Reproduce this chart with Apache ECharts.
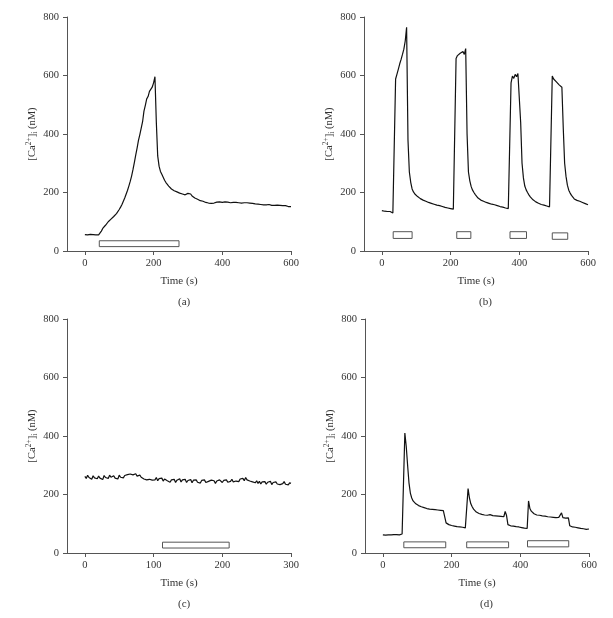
<!DOCTYPE html>
<html>
<head>
<meta charset="utf-8">
<script src="https://cdn.jsdelivr.net/npm/echarts@6/dist/echarts.min.js"></script>
<style>
html,body{margin:0;padding:0;background:#fff;}
#chart{width:613px;height:618px;}
</style>
</head>
<body>
<div id="chart"></div>
<script>
// ---- data ----
const panelLabels = ['(a)', '(b)', '(c)', '(d)'];
const xTicksA = [0, 200, 400, 600];
const xTicksB = [0, 200, 400, 600];
const xTicksC = [0, 100, 200, 300];
const xTicksD = [0, 200, 400, 600];
const yTicks = [0, 200, 400, 600, 800];

const stepA = 4;
const caA = [
  56,57,55,56,57,55,56,57,55,56,
  55,58,68,77,82,88,94,100,106,109,
  114,118,123,128,134,142,150,159,170,181,
  194,207,222,238,256,278,302,328,352,378,
  398,420,442,478,498,520,528,546,540,560,
  575,596,440,325,290,272,262,252,242,234,
  228,222,216,212,209,206,203,202,200,198,
  197,195,193,192,194,197,199,195,188,184,
  181,180,177,175,172,171,170,168,166,165,
  164,164,163,165,164,166,167,166,168,167,
  166,167,168,166,167,166,165,167,166,165,
  166,164,165,166,164,163,165,164,165,163,
  164,166,163,162,161,162,160,161,159,160,
  158,159,158,157,159,157,156,158,156,155,
  157,155,156,154,155,153,155,153,152,154,
  152
];
const stepB = 4;
const caB = [
  138,137,136,137,135,134,135,133,130,131,
  588,605,622,640,655,672,690,718,765,380,
  270,235,212,202,195,190,186,182,179,176,
  174,172,170,168,166,165,163,162,160,159,
  157,156,155,153,152,150,149,148,147,146,
  145,144,143,142,658,668,662,676,670,682,
  672,692,400,270,240,220,208,200,193,187,
  181,177,174,172,170,168,166,165,163,162,
  160,159,158,156,155,154,152,151,150,149,
  147,146,145,141,575,598,590,604,596,607,
  602,440,300,250,222,209,200,192,185,179,
  175,171,168,165,163,161,159,158,157,156,
  154,153,151,149,598,588,586,578,575,568,
  566,560,420,300,255,225,208,198,190,184,
  178,175,173,171,170,168,166,164,162,160,
  158
];
const stepC = 2;
const caC = [
  262,255,266,258,260,252,264,257,261,254,
  263,256,259,251,265,258,262,255,266,259,
  257,264,256,262,253,266,259,263,257,265,
  260,268,262,270,264,267,261,271,263,268,
  266,259,262,253,257,250,256,252,258,249,
  255,250,258,247,254,251,256,246,253,250,
  247,253,242,250,245,252,241,249,246,254,
  243,250,244,252,241,248,245,251,240,249,
  244,250,242,247,239,248,243,250,241,246,
  245,240,249,243,247,238,246,242,250,244,
  241,248,244,250,242,247,245,252,243,249,
  246,251,244,253,248,255,247,258,250,254,
  246,252,243,249,240,247,238,245,236,243,
  239,244,235,242,237,245,234,241,238,243,
  236,242,234,240,237,244,235,241,233,240,
  238
];
const stepD = 4;
const caD = [
  62,63,61,64,62,63,62,64,63,62,
  63,64,62,64,65,68,410,365,300,240,
  205,188,178,172,168,170,162,166,158,163,
  155,160,152,157,150,155,149,154,148,152,
  147,151,146,150,145,148,103,100,97,99,
  94,96,92,95,90,93,89,91,88,90,
  86,84,220,188,168,158,150,145,140,137,
  135,138,132,134,130,136,129,133,131,134,
  128,132,127,130,126,131,125,128,124,142,
  128,97,95,93,96,92,94,90,93,89,
  91,87,89,85,88,84,178,152,143,138,
  134,136,130,133,129,131,127,130,126,129,
  124,128,123,126,122,125,121,126,122,124,
  137,121,124,119,122,120,93,91,89,92,
  88,90,86,89,84,87,83,85,81,84,
  82
];
// stimulus bars: [start s, end s, low nM, high nM]
const barsA = [[42, 274, 15, 35]];
const barsB = [[33, 88, 43, 66], [218, 259, 43, 66], [373, 421, 43, 66], [496, 541, 40, 62]];
const barsC = [[113, 210, 17, 37]];
const barsD = [[61, 183, 18, 38], [244, 366, 18, 38], [421, 541, 21, 42]];

// ---- chart ----
const FONT = '"Liberation Serif", "DejaVu Serif", serif';
const panels = [
  {vals: caA, step: stepA, bars: barsA, ticks: xTicksA, xmin: -52, xmax: 600, left: 67, top: 17},
  {vals: caB, step: stepB, bars: barsB, ticks: xTicksB, xmin: -52, xmax: 600, left: 364, top: 17},
  {vals: caC, step: stepC, bars: barsC, ticks: xTicksC, xmin: -26, xmax: 300, left: 67, top: 319},
  {vals: caD, step: stepD, bars: barsD, ticks: xTicksD, xmin: -52, xmax: 600, left: 365, top: 319}
];
const W = 224, H = 234;
const axisColor = '#555';
const labelColor = '#333';

const grid = [], xAxis = [], yAxis = [], series = [], title = [];
panels.forEach((p, i) => {
  grid.push({left: p.left, top: p.top, width: W, height: H, containLabel: false});
  xAxis.push({
    type: 'value', gridIndex: i, min: p.xmin, max: p.xmax,
    name: 'Time (s)', nameLocation: 'middle', nameGap: 25,
    nameTextStyle: {fontFamily: FONT, fontSize: 11, color: labelColor},
    axisLine: {show: true, onZero: false, lineStyle: {color: axisColor, width: 1}},
    axisTick: {show: true, length: 4, lineStyle: {color: axisColor}, customValues: p.ticks},
    axisLabel: {fontFamily: FONT, fontSize: 10.5, color: labelColor, margin: 7, customValues: p.ticks},
    splitLine: {show: false}
  });
  yAxis.push({
    type: 'value', gridIndex: i, min: 0, max: 800, interval: 200,
    name: '[Ca{sup|2+}]{sub|i} (nM)', nameLocation: 'middle', nameGap: 27, nameRotate: 90,
    nameTextStyle: {
      fontFamily: FONT, fontSize: 10.5, color: labelColor, lineHeight: 14,
      rich: {
        sup: {fontFamily: FONT, fontSize: 7.5, color: labelColor, lineHeight: 14, verticalAlign: 'top', padding: [0, 0, 5, 0]},
        sub: {fontFamily: FONT, fontSize: 7.5, color: labelColor, lineHeight: 14, verticalAlign: 'bottom', padding: [4, 0, 0, 0]}
      }
    },
    axisLine: {show: true, onZero: false, lineStyle: {color: axisColor, width: 1}},
    axisTick: {show: true, length: 4, lineStyle: {color: axisColor}},
    axisLabel: {fontFamily: FONT, fontSize: 10.5, color: labelColor, margin: 8},
    splitLine: {show: false}
  });
  series.push({
    type: 'line', xAxisIndex: i, yAxisIndex: i,
    data: p.vals.map((v, k) => [k * p.step, v]),
    showSymbol: false, symbol: 'none',
    lineStyle: {color: '#111', width: 1.2},
    animation: false, z: 3
  });
  series.push({
    type: 'custom', xAxisIndex: i, yAxisIndex: i,
    data: p.bars,
    encode: {x: [0, 1], y: [2, 3]},
    renderItem: function (params, api) {
      const a = api.coord([api.value(0), api.value(3)]);
      const b = api.coord([api.value(1), api.value(2)]);
      return {
        type: 'rect',
        shape: {x: a[0], y: a[1], width: b[0] - a[0], height: b[1] - a[1]},
        style: {fill: '#fff', stroke: '#555', lineWidth: 1}
      };
    },
    animation: false, z: 2
  });
  title.push({
    text: panelLabels[i], left: p.left + W / 2 - 6 + (i % 2 === 1 ? 4 : 0), top: p.top + H + 41,
    textStyle: {fontFamily: FONT, fontSize: 11, fontWeight: 'normal', color: labelColor}
  });
});

const chart = echarts.init(document.getElementById('chart'), null, {renderer: 'canvas'});
chart.setOption({
  backgroundColor: '#fff',
  animation: false,
  title: title,
  grid: grid,
  xAxis: xAxis,
  yAxis: yAxis,
  series: series
});
</script>
</body>
</html>
